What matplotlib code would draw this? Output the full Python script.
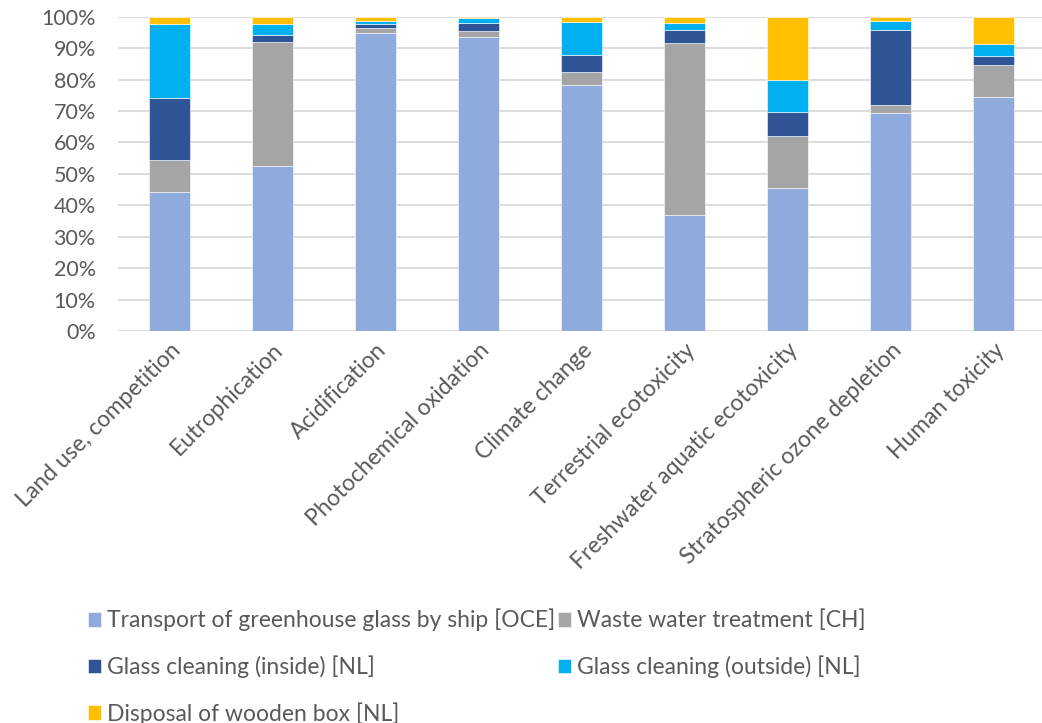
import numpy as np
import matplotlib
matplotlib.use("Agg")
import matplotlib.pyplot as plt

# impact categories
categories = ["Land use, competition", "Eutrophication", "Acidification",
              "Photochemical oxidation", "Climate change", "Terrestrial ecotoxicity",
              "Freshwater aquatic ecotoxicity", "Stratospheric ozone depletion", "Human toxicity"]

# shares per process (%)
transport = [44.1, 52.4, 94.7, 93.4, 78.3, 36.8, 45.4, 69.2, 74.3]
waste_water = [10.2, 39.5, 1.8, 2.1, 4.2, 54.8, 16.7, 2.8, 10.2]
cleaning_inside = [19.8, 2.3, 1.3, 2.6, 5.2, 4.1, 7.6, 23.7, 2.9]
cleaning_outside = [23.4, 3.6, 0.9, 1.4, 10.5, 2.4, 10.3, 3.0, 4.0]
disposal_box = [2.5, 2.2, 1.3, 0.5, 1.8, 1.9, 20.0, 1.3, 8.6]

series = [
    ("Transport of greenhouse glass by ship [OCE]", transport, "#8FAADC"),
    ("Waste water treatment [CH]", waste_water, "#A5A5A5"),
    ("Glass cleaning (inside) [NL]", cleaning_inside, "#2F5597"),
    ("Glass cleaning (outside) [NL]", cleaning_outside, "#00B0F0"),
    ("Disposal of wooden box [NL]", disposal_box, "#FFC000"),
]

plt.rcParams['font.family'] = ['Lato', 'DejaVu Sans']
text_color = "#595959"

fig = plt.figure(figsize=(10.42, 7.23), dpi=100)
ax = fig.add_axes([0.1132, 0.542, 0.8896, 0.435])

x = np.arange(len(categories))
bottom = np.zeros(len(categories))
handles = []
for label, vals, color in series:
    vals = np.array(vals)
    h = ax.bar(x, vals, 0.4, bottom=bottom, color=color, label=label,
               edgecolor="white", linewidth=0.4, zorder=3)
    handles.append(h)
    bottom += vals

ax.set_xlim(-0.5, len(categories) - 0.5)
ax.set_ylim(0, 100)
ax.set_yticks(np.arange(0, 101, 10))
ax.set_yticklabels([f"{v}%" for v in range(0, 101, 10)], fontsize=15.5, color=text_color)
ax.set_xticks(x)
ax.set_xticklabels(categories, rotation=45, ha="right", rotation_mode="anchor",
                   fontsize=16.5, color=text_color)
ax.tick_params(axis="both", length=0)
ax.tick_params(axis="y", pad=16)
ax.tick_params(axis="x", pad=6)
ax.grid(axis="y", color="#D9D9D9", linewidth=1.3, zorder=0)
for s in ax.spines.values():
    s.set_visible(False)

# legend row-major like excel
order = [0, 2, 4, 1, 3]
leg = fig.legend([handles[i] for i in order], [series[i][0] for i in order],
                 loc="upper left", bbox_to_anchor=(0.084, 0.158), ncol=2,
                 frameon=False, fontsize=16.5, handlelength=0.6, handleheight=0.6,
                 handletextpad=0.25, columnspacing=0.1, labelspacing=1.05,
                 borderaxespad=0, borderpad=0)
for t in leg.get_texts():
    t.set_color(text_color)

fig.savefig("out.png", dpi=100)
